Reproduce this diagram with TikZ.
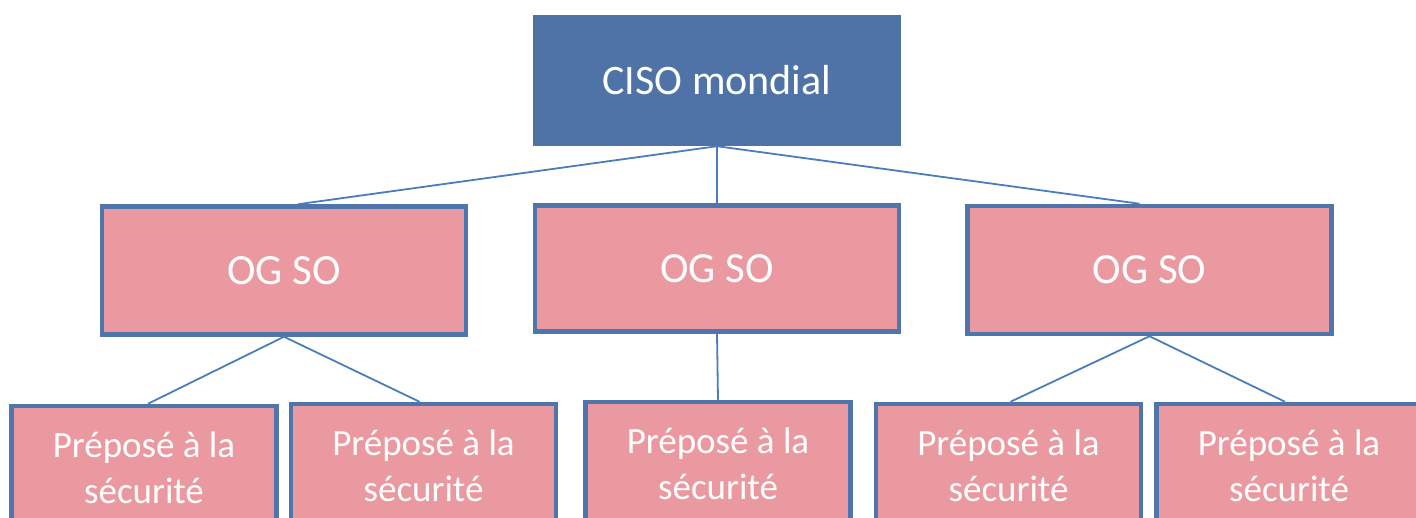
\documentclass[tikz,border=0pt]{standalone}
\usepackage{fontspec}
\setmainfont{Carlito}
\definecolor{topblue}{RGB}{79,115,167}
\definecolor{pinkfill}{RGB}{235,153,160}
\definecolor{edgeblue}{RGB}{80,117,170}
\definecolor{linkblue}{RGB}{74,126,187}
\tikzset{
  topbox/.style={rectangle, fill=topblue, draw=none, text=white, minimum width=368pt, minimum height=131pt, inner sep=0pt, font=\fontsize{42}{48}\selectfont},
  ogbox/.style={rectangle, fill=pinkfill, draw=edgeblue, line width=4.5pt, text=white, minimum width=364pt, minimum height=128pt, inner sep=0pt, font=\fontsize{43}{48}\selectfont},
  pbox/.style={rectangle, fill=pinkfill, draw=edgeblue, line width=4.5pt, text=white, minimum width=265pt, minimum height=124pt, inner sep=0pt, align=center, font=\fontsize{37}{46}\selectfont},
  link/.style={draw=linkblue, line width=1.8pt}
}
\begin{document}
\begin{tikzpicture}[x=1pt,y=-1pt]
\useasboundingbox (0,0) rectangle (1416,518);
\clip (0,0) rectangle (1416,518);
\node[topbox] (top) at (717,80.5) {CISO mondial};
\node[ogbox] (og1) at (284,270.5) {OG SO};
\node[ogbox, minimum height=126pt] (og2) at (717,268.5) {OG SO};
\node[ogbox] (og3) at (1149.5,270) {OG SO};
\node[pbox] (p1) at (144,468) {Préposé à la\\sécurité};
\node[pbox] (p2) at (423.5,466) {Préposé à la\\sécurité};
\node[pbox] (p3) at (718,464) {Préposé à la\\sécurité};
\node[pbox] (p4) at (1008.5,466) {Préposé à la\\sécurité};
\node[pbox] (p5) at (1289,466) {Préposé à la\\sécurité};
\draw[link] (top.south) -- ([xshift=14pt]og1.north);
\draw[link] (top.south) -- (og2.north);
\draw[link] (top.south) -- ([xshift=-10pt]og3.north);
\draw[link] (og1.south) -- ([xshift=4pt]p1.north);
\draw[link] (og1.south) -- ([xshift=-4pt]p2.north);
\draw[link] (og2.south) -- (p3.north);
\draw[link] (og3.south) -- ([xshift=2pt]p4.north);
\draw[link] (og3.south) -- ([xshift=-4pt]p5.north);
\end{tikzpicture}
\end{document}
